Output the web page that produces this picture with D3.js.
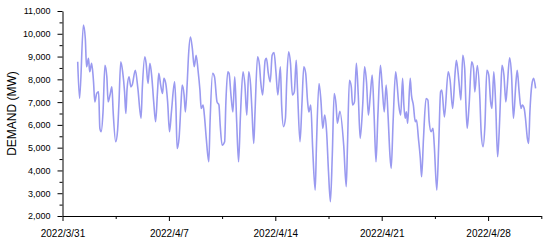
<!DOCTYPE html>
<html>
<head>
<meta charset="utf-8">
<script src="https://cdn.jsdelivr.net/npm/d3@7"></script>
<style>
  html, body { margin: 0; padding: 0; background: #fff; }
  svg { display: block; font-family: Arial, "Liberation Sans", sans-serif; }
</style>
</head>
<body>
<svg id="chart" width="550" height="246"></svg>
<script>
// hours after 2022/4/1 00:00
const hours = [0,3,9,12,14,17,19,22,25,27,30,33,35,37,40,43,46,48,51,54,56,60,63,65,68,71,74,76,78,81,84,86,91,95,
  100,102,106,108,111,114,117,120,123,126,128,131,134,136,139,142,145,148,153,155,157,160,163,165,168,170,173,175,178,
  181,184,187,190,193,195,198,200,203,207,209,213,216,220,223,225,228,232,234,237,239,242,245,248,251,254,257,261,264,
  267,270,273,275,278,280,284,287,289,292,296,298,301,304,307,310,313,316,320,322,325,328,330,333,336,339,342,345,347,
  351,354,357,360,363,365,368,371,375,377,381,384,387,390,393,396,399,402,405,408,410,414,420,424,426,429,432,434,437,
  440,443,446,450,453,456,459,462,465,468,471,474,478,481,484,487,490,493,495,498,502,504,507,510,513,515,517,519,521,
  525,527,530,533,535,538,541,543,546,550,553,555,558,561,563,567,570,573,575,579,585,588,592,596,598,602,605,608,611,
  613,615,618,622,625,627,631,635,637,640,643,646,649,652,654,657,660,663,665,668,670,673,676,678,682,685,688,692,694,
  697,700,702,705,707,710,712,714,717,720,723];

const demand = [8770,7160,10380,9790,8550,8920,8330,8700,7890,7010,7380,7450,5850,5700,6570,8620,8110,7010,7310,7670,6570,5260,5770,6870,8770,8330,7450,6500,7600,8110,7670,7750,8400,7600,
  6290,7600,8990,8700,7820,8700,8110,7010,6140,7450,8260,7750,7380,8040,7820,7010,5700,6570,7890,6870,4970,5410,6870,7750,7310,6570,7890,9060,9860,
  9360,8550,9060,8400,7530,6720,6870,6430,5410,4380,6140,8260,8110,7010,6870,5990,5110,5260,7010,8330,8260,7310,6570,8110,6140,4380,6430,8330,7750,
  6430,8330,7750,6720,5190,6570,8990,8620,7890,7310,8840,8920,8260,7890,9060,9180,8330,7310,8550,6870,5920,6290,7890,9210,8700,7310,7450,8840,7600,
  5260,6870,8550,8260,7010,6570,6870,4970,3140,5110,7820,7090,5850,6430,5700,3940,2630,4680,7380,6870,6070,6600,5110,3290,5110,7960,7670,6870,7010,
  8700,7310,5410,6870,8550,7890,6430,7310,8190,6430,4380,6430,8620,7600,6570,7750,6430,4680,4090,6140,8330,7890,6870,6430,8040,6870,6290,6570,6070,
  8040,7310,6870,6140,6210,5410,4530,3720,5410,7160,7090,6140,5700,5850,5110,3140,5110,7450,7530,6350,8330,7960,6720,8330,8840,7890,7090,9060,8480,
  6870,5850,6870,8770,8480,7450,8600,7160,5700,5040,5990,8400,8190,7010,6720,8330,6870,4600,5410,7450,8620,8190,7010,7600,8940,8190,6290,7890,8400,
  7450,6720,6870,6720,6290,5410,5190,6570,7750,8040,7600];

const yMajor = [2000,3000,4000,5000,6000,7000,8000,9000,10000,11000];
const xLabels = ["2022/3/31","2022/4/7","2022/4/14","2022/4/21","2022/4/28"];

const svg = d3.select("#chart");
const start = new Date(2022, 3, 1);
const data = hours.map((h, i) => ({ t: new Date(start.getTime() + h * 3600e3), v: demand[i] }));

const x = d3.scaleTime()
  .domain([new Date(2022, 2, 31), new Date(2022, 4, 1, 12)])
  .range([62.5, 541.3]);

const y = d3.scaleLinear()
  .domain([2000, 11000])
  .range([216, 11]);

// y axis, minor ticks every 500
const yTicks = d3.range(2000, 11001, 500);
const gy = svg.append("g")
  .attr("transform", "translate(62.5,0)")
  .call(d3.axisLeft(y)
    .tickValues(yTicks)
    .tickSize(5)
    .tickSizeOuter(0)
    .tickPadding(7)
    .tickFormat(d => yMajor.includes(d) ? d3.format(",")(d) : ""));
gy.selectAll(".tick line").filter(d => !yMajor.includes(d)).attr("x2", -3);
gy.selectAll("text").attr("font-size", 9).attr("fill", "#000").attr("font-family", "Arial, 'Liberation Sans', sans-serif");

// x axis, ticks every 3.5 days, label every week
const xTicks = d3.range(0, 10).map(i => new Date(new Date(2022, 2, 31).getTime() + i * 84 * 3600e3));
const gx = svg.append("g")
  .attr("transform", "translate(0,216)")
  .call(d3.axisBottom(x)
    .tickValues(xTicks)
    .tickSize(5)
    .tickSizeOuter(0)
    .tickPadding(9)
    .tickFormat((d, i) => i % 2 === 0 ? xLabels[i / 2] : ""));
gx.selectAll(".tick line").filter((d, i) => i % 2 === 1).attr("y2", 3);
gx.selectAll("text").attr("font-size", 10).attr("fill", "#000").attr("font-family", "Arial, 'Liberation Sans', sans-serif");

svg.selectAll(".domain, .tick line").attr("stroke", "#000").attr("stroke-width", 1);

svg.append("text")
  .attr("transform", "translate(16,113.5) rotate(-90)")
  .attr("text-anchor", "middle")
  .attr("font-size", 12)
  .attr("fill", "#000")
  .text("DEMAND (MW)");

const line = d3.line()
  .x(d => x(d.t))
  .y(d => y(d.v))
  .curve(d3.curveMonotoneX);

svg.append("path")
  .datum(data)
  .attr("fill", "none")
  .attr("stroke", "#9a9af0")
  .attr("stroke-width", 1.6)
  .attr("stroke-linejoin", "round")
  .attr("d", line);
</script>
</body>
</html>
